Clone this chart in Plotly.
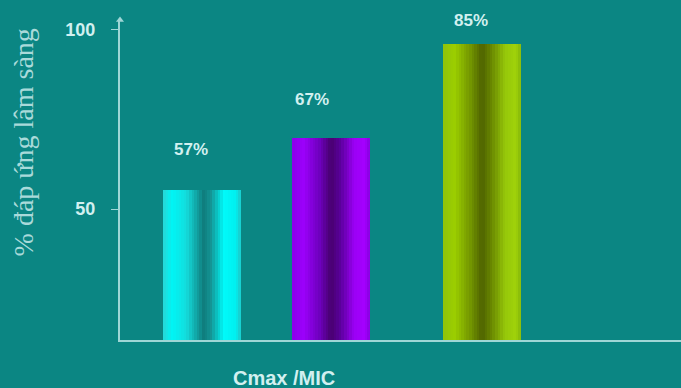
import plotly.graph_objects as go

# ---- data ----
categories = ["A", "B", "C"]
values = [55.3, 69.7, 95.8]          # bar heights
labels = ["57%", "67%", "85%"]       # printed labels
y_ticks = [50, 100]
y_title = "% đáp ứng lâm sàng"
x_title = "Cmax /MIC"

# ---- layout constants (positions / styles) ----
bar_pos = [0.0, 1.0, 2.17]
bar_width = 0.605
label_dx = [-11, -19, -11]
label_dy = [41, 39, 24]
BG = "#0b8683"
AXIS_C = "#9fd6d6"
TXT_C = "#d2f0f0"

# gradient stops per bar (pos, rgb)
grads = [
    [(0.0, (40, 215, 215)), (0.12, (0, 245, 245)), (0.3, (20, 220, 220)), (0.52, (15, 125, 125)),
     (0.62, (20, 150, 150)), (0.78, (0, 250, 250)), (0.93, (0, 240, 240)), (1.0, (30, 200, 200))],
    [(0.0, (140, 0, 235)), (0.15, (155, 0, 250)), (0.35, (110, 0, 190)), (0.5, (72, 0, 112)),
     (0.62, (90, 0, 155)), (0.8, (155, 0, 245)), (0.93, (165, 0, 255)), (1.0, (135, 0, 225))],
    [(0.0, (145, 195, 10)), (0.15, (155, 205, 0)), (0.35, (115, 150, 0)), (0.5, (80, 100, 0)),
     (0.62, (105, 135, 0)), (0.8, (150, 200, 10)), (0.93, (160, 210, 10)), (1.0, (135, 185, 10))],
]

def grad_color(stops, t):
    for (p0, c0), (p1, c1) in zip(stops[:-1], stops[1:]):
        if p0 <= t <= p1:
            f = (t - p0) / (p1 - p0) if p1 > p0 else 0
            c = [round(a + (b - a) * f) for a, b in zip(c0, c1)]
            return f"rgb({c[0]},{c[1]},{c[2]})"
    c = stops[-1][1]
    return f"rgb({c[0]},{c[1]},{c[2]})"

N = 30
fig = go.Figure()
for i in range(N):
    t = (i + 0.5) / N
    fig.add_trace(go.Bar(
        x=bar_pos, y=values,
        width=bar_width / N * 1.06,
        offset=-bar_width / 2 + i * bar_width / N,
        marker=dict(color=[grad_color(g, t) for g in grads], line=dict(width=0)),
        hoverinfo="skip", showlegend=False,
    ))

# axis arrow head
fig.add_trace(go.Scatter(
    x=[-0.636], y=[102.6], mode="markers",
    marker=dict(symbol="triangle-up", size=7, color=AXIS_C),
    cliponaxis=False, showlegend=False, hoverinfo="skip",
))

for x, v, lab, dx, dy in zip(bar_pos, values, labels, label_dx, label_dy):
    fig.add_annotation(x=x, y=v, text=f"<b>{lab}</b>", showarrow=False,
                       xshift=dx, yshift=dy,
                       font=dict(family="Liberation Sans, Arial", size=17, color=TXT_C))

fig.add_annotation(xref="paper", yref="paper", x=-0.172, y=0.616,
                   xanchor="center", yanchor="middle",
                   text=y_title, textangle=-90, showarrow=False,
                   font=dict(family="Liberation Serif, Times New Roman", size=28, color="#a9dada"))
fig.add_annotation(xref="paper", yref="paper", x=0.292, y=-0.118,
                   xanchor="center", yanchor="middle",
                   text=f"<b>{x_title}</b>", showarrow=False,
                   font=dict(family="Liberation Sans, Arial", size=20, color=TXT_C))

fig.update_layout(
    width=681, height=388,
    margin=dict(l=120, r=0, t=20, b=48),
    paper_bgcolor=BG, plot_bgcolor=BG,
    barmode="overlay", bargap=0,
    xaxis=dict(range=[-0.636, 3.713], showgrid=False, zeroline=False,
               showticklabels=False, ticks="", showline=True,
               linecolor=AXIS_C, linewidth=2, fixedrange=True),
    yaxis=dict(range=[13.6, 102.6], showgrid=False, zeroline=False,
               tickvals=y_ticks, ticktext=[str(t) for t in y_ticks],
               ticks="outside", ticklen=7, tickcolor=AXIS_C, tickwidth=1,
               ticklabelstandoff=12,
               tickfont=dict(family="Liberation Sans, Arial", size=18, color=TXT_C, weight="bold"),
               showline=True, linecolor=AXIS_C, linewidth=2, fixedrange=True),
)

fig.write_html("out.html")
